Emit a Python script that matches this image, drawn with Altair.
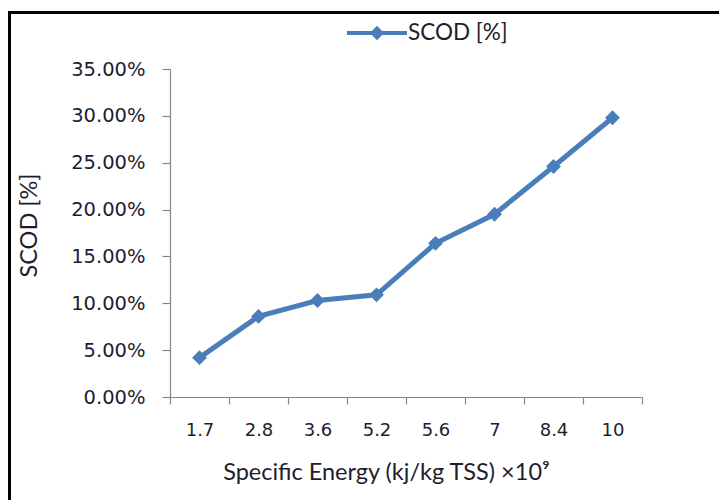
import altair as alt
import pandas as pd

energy = ["1.7", "2.8", "3.6", "5.2", "5.6", "7", "8.4", "10"]
scod = [0.042, 0.086, 0.103, 0.109, 0.164, 0.195, 0.246, 0.298]
series_name = "SCOD [%]"
y_ticks = [0, 0.05, 0.10, 0.15, 0.20, 0.25, 0.30, 0.35]

df = pd.DataFrame({"energy": energy, "scod": scod, "series": [series_name] * len(energy)})

BLUE = "#4a7ebb"
AXIS = "#888888"
LABEL = "#1e1e2e"

x_enc = alt.X(
    "energy:N",
    sort=energy,
    scale=alt.Scale(paddingInner=0, paddingOuter=0),
    axis=alt.Axis(
        title="Specific Energy (kj/kg TSS) \u00d710\u2079",
        labelAngle=0,
        tickBand="extent",
        labelFont="DejaVu Sans",
        labelFontSize=18,
        labelColor=LABEL,
        labelPadding=17,
        tickSize=7,
        titleFont="Lato",
        titleFontSize=23.5,
        titleFontWeight="normal",
        titleColor=LABEL,
        titleX=216,
        titleY=75,
        titleBaseline="middle",
        titleAlign="center",
    ),
)
y_enc = alt.Y(
    "scod:Q",
    scale=alt.Scale(domain=[0, 0.35], nice=False),
    axis=alt.Axis(
        values=y_ticks,
        format=".2%",
        title="SCOD [%]",
        labelFont="DejaVu Sans",
        labelFontSize=19.5,
        labelColor=LABEL,
        labelPadding=17,
        tickSize=8,
        titleFont="Lato",
        titleFontSize=23.5,
        titleFontWeight="normal",
        titleColor=LABEL,
        titleX=-141,
        titleY=156,
        titleAngle=270,
        titleBaseline="middle",
        titleAlign="center",
    ),
)

legend_symbol = (
    "M -1 -0.07 L 1 -0.07 L 1 0.07 L -1 0.07 Z "
    "M 0 -0.24 L 0.24 0 L 0 0.24 L -0.24 0 Z"
)

line = alt.Chart(df).mark_line(strokeWidth=5).encode(
    x=x_enc,
    y=y_enc,
    color=alt.Color(
        "series:N",
        scale=alt.Scale(range=[BLUE]),
        legend=alt.Legend(
            title=None,
            orient="none",
            legendX=177,
            legendY=-66,
            symbolType=legend_symbol,
            symbolSize=3600,
            symbolFillColor=BLUE,
            symbolStrokeWidth=0,
            labelFont="Lato",
            labelFontSize=22.5,
            labelColor=LABEL,
            labelOffset=1,
        ),
    ),
)

points = alt.Chart(df).mark_point(
    shape="diamond", filled=True, size=220, color=BLUE, opacity=1
).encode(x=x_enc, y=y_enc)

frame = alt.Data(values=[{}])
left_rule = alt.Chart(frame).mark_rule(color="black", strokeWidth=3).encode(
    x=alt.value(-160.5), y=alt.value(-58), y2=alt.value(440)
)
top_rule = alt.Chart(frame).mark_rule(color="black", strokeWidth=3).encode(
    x=alt.value(-162), x2=alt.value(560), y=alt.value(-56.5)
)

chart = (
    alt.layer(left_rule, top_rule, line, points)
    .properties(
        width=472,
        height=328,
        autosize=alt.AutoSizeParams(type="none"),
        padding={"left": 170, "top": 69, "right": 77, "bottom": 103},
        background="white",
    )
    .configure_view(stroke=None)
    .configure_axis(
        grid=False,
        domainColor=AXIS,
        tickColor=AXIS,
        domainWidth=1.2,
        tickWidth=1.2,
    )
)

chart.save("out.html", embed_options={"renderer": "svg", "actions": False})
